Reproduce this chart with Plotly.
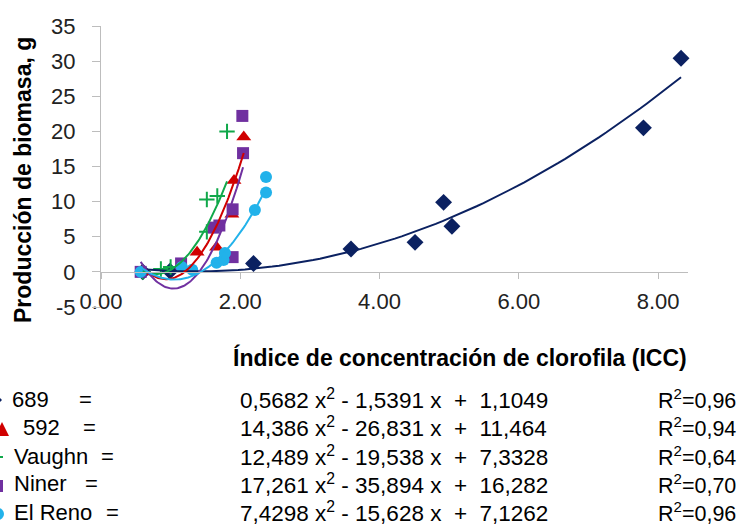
import numpy as np
import plotly.graph_objects as go

# ---- data ----
x_689 = [0.60, 0.99, 2.19, 3.59, 4.51, 4.92, 5.04, 7.79, 8.33]
y_689 = [0.0, 0.1, 1.2, 3.25, 4.2, 9.9, 6.5, 20.5, 30.4]

x_592 = [0.60, 1.38, 1.66, 1.88, 1.91, 2.05]
y_592 = [0.0, 2.8, 3.5, 8.2, 13.0, 19.2]

x_vau = [0.60, 0.86, 1.00, 1.52, 1.52, 1.67, 1.81]
y_vau = [0.0, 0.4, 0.7, 5.7, 10.3, 10.8, 20.0]

x_nin = [0.57, 1.15, 1.62, 1.70, 1.89, 1.89, 2.04, 2.03]
y_nin = [0.0, 1.2, 6.3, 6.6, 2.1, 8.9, 16.9, 22.2]

x_elr = [0.57, 1.16, 1.31, 1.66, 1.76, 1.78, 2.21, 2.37, 2.37]
y_elr = [0.0, 0.7, 0.3, 1.3, 1.7, 2.7, 8.8, 11.3, 13.5]

names = ["689", "592", "Vaughn", "Niner", "El Reno"]
coef_a = [0.5682, 14.386, 12.489, 17.261, 7.4298]
coef_b = [-1.5391, -26.831, -19.538, -35.894, -15.628]
coef_c = [1.1049, 11.464, 7.3328, 16.282, 7.1262]
r2_labels = ["0,96", "0,94", "0,64", "0,70", "0,96"]
eq_labels = [
    ("0,5682", "1,5391", "1,1049"),
    ("14,386", "26,831", "11,464"),
    ("12,489", "19,538", "7,3328"),
    ("17,261", "35,894", "16,282"),
    ("7,4298", "15,628", "7,1262"),
]
x_ticks = [0, 2, 4, 6, 8]
x_tick_text = ["0.00", "2.00", "4.00", "6.00", "8.00"]
y_ticks = [-5, 0, 5, 10, 15, 20, 25, 30, 35]
y_tick_text = ["-5", "0", "5", "10", "15", "20", "25", "30", "35"]

# ---- styles ----
colors = ["#0B2161", "#D00000", "#10A84A", "#7030A0", "#22B2EA"]
symbols = ["diamond", "triangle-up", "cross-thin", "square", "circle"]
sizes = [13, 13, 11, 12, 12]
series = [(x_689, y_689), (x_592, y_592), (x_vau, y_vau), (x_nin, y_nin), (x_elr, y_elr)]
FONT = "Liberation Sans, Arial, sans-serif"

fig = go.Figure()
for (xs, ys), col, sym, sz, nm in zip(series, colors, symbols, sizes, names):
    mk = dict(color=col, size=sz, symbol=sym)
    if sym == "cross-thin":
        mk["line"] = dict(color=col, width=2)
    fig.add_trace(go.Scatter(x=xs, y=ys, mode="markers", marker=mk, name=nm,
                             showlegend=False, cliponaxis=False))

# trend lines from the displayed equations
for (xs, ys), col, a, b, c in zip(series, colors, coef_a, coef_b, coef_c):
    xx = np.linspace(min(xs), max(xs), 80)
    yy = np.polyval([a, b, c], xx)
    fig.add_trace(go.Scatter(x=xx, y=yy, mode="lines", line=dict(color=col, width=2),
                             showlegend=False, hoverinfo="skip"))

# plot area in page pixels: x 101..688, y 26..307 (body margin removed below)
W, H = 746, 525
L, T = 101, 26
R, B = W - 688, H - 307
PW, PH = W - L - R, H - T - B


def xp(px):
    return (px - L) / PW


def yp(py):
    return (H - B - py) / PH


fig.update_layout(
    width=W, height=H,
    margin=dict(l=L, r=R, t=T, b=B, pad=0, autoexpand=False),
    paper_bgcolor="white", plot_bgcolor="white", showlegend=False,
    font=dict(family=FONT, size=20, color="#111111"),
    xaxis=dict(range=[0, 8.43], tickvals=x_ticks, ticktext=x_tick_text, automargin=False,
               showgrid=False, zeroline=False, showline=True, linecolor="#BDBDBD",
               linewidth=1, ticks="outside", ticklen=6, tickcolor="#BDBDBD",
               anchor="free", position=0.125, ticklabelstandoff=4,
               tickfont=dict(size=22, color="#222222")),
    yaxis=dict(range=[-5, 35], tickvals=y_ticks, ticktext=y_tick_text, showgrid=False,
               automargin=False,
               zeroline=False, showline=True, linecolor="#BDBDBD", linewidth=1,
               ticks="outside", ticklen=8, tickcolor="#BDBDBD", ticklabelstandoff=12,
               tickfont=dict(size=22, color="#222222")),
)

ann = []
ann.append(dict(text="<b>Producción de biomasa, g</b>", x=xp(23), y=yp(180), xref="paper",
                yref="paper", showarrow=False, textangle=-90, xanchor="center",
                yanchor="middle", font=dict(size=23, color="#000000")))
ann.append(dict(text="<b>Índice de concentración de clorofila (ICC)</b>", x=xp(460), y=yp(357),
                xref="paper", yref="paper", showarrow=False, xanchor="center",
                yanchor="middle", font=dict(size=23, color="#000000")))

row_y = [399, 427, 456, 484, 512]
name_x = [10, 21, 12, 12, 12]
eq_x = [85, 89, 107, 91, 112]
nb = "\u00a0"
for i in range(5):
    y = yp(row_y[i])
    ann.append(dict(text=names[i], x=xp(name_x[i]), y=y, xref="paper", yref="paper",
                    showarrow=False, xanchor="left", yanchor="middle",
                    font=dict(size=22, color="#000000")))
    ann.append(dict(text="=", x=xp(eq_x[i]), y=y, xref="paper", yref="paper",
                    showarrow=False, xanchor="center", yanchor="middle",
                    font=dict(size=22, color="#000000")))
    a, b, c = eq_labels[i]
    txt = f"{a} x<sup>2</sup> - {b} x {nb}+{nb} {c}"
    ann.append(dict(text=txt, x=xp(238), y=y, xref="paper", yref="paper",
                    showarrow=False, xanchor="left", yanchor="middle",
                    font=dict(size=22.5, color="#000000")))
    ann.append(dict(text=f"R<sup>2</sup>=" + r2_labels[i], x=xp(656), y=y, xref="paper",
                    yref="paper", showarrow=False, xanchor="left", yanchor="middle",
                    font=dict(size=21.5, color="#000000")))

# legend key symbols at the left edge (partly cut off, as in the original)
shapes = []
cx, cy = -4, 400
shapes.append(dict(type="path", xref="paper", yref="paper", line=dict(width=0),
                   fillcolor=colors[0],
                   path=f"M {xp(cx-6)},{yp(cy)} L {xp(cx)},{yp(cy-6)} L {xp(cx+6)},{yp(cy)} "
                        f"L {xp(cx)},{yp(cy+6)} Z"))
cx, cy = 2, 429
shapes.append(dict(type="path", xref="paper", yref="paper", line=dict(width=0),
                   fillcolor=colors[1],
                   path=f"M {xp(cx-7)},{yp(cy+7)} L {xp(cx)},{yp(cy-7)} L {xp(cx+7)},{yp(cy+7)} Z"))
cx, cy = -2, 457
shapes.append(dict(type="path", xref="paper", yref="paper",
                   line=dict(width=2, color=colors[2]),
                   path=f"M {xp(cx-5)},{yp(cy)} L {xp(cx+5)},{yp(cy)} "
                        f"M {xp(cx)},{yp(cy-5)} L {xp(cx)},{yp(cy+5)}"))
cx, cy = -3, 486
shapes.append(dict(type="rect", xref="paper", yref="paper", line=dict(width=0),
                   fillcolor=colors[3], x0=xp(cx-6), x1=xp(cx+6), y0=yp(cy+6), y1=yp(cy-6)))
cx, cy = -2, 514
shapes.append(dict(type="circle", xref="paper", yref="paper", line=dict(width=0),
                   fillcolor=colors[4], x0=xp(cx-6), x1=xp(cx+6), y0=yp(cy+6), y1=yp(cy-6)))

fig.update_layout(annotations=ann, shapes=shapes)
fig.write_html("out.html", config={"displayModeBar": False},
               post_script="document.body.style.margin='0';document.body.style.overflow='hidden';")
